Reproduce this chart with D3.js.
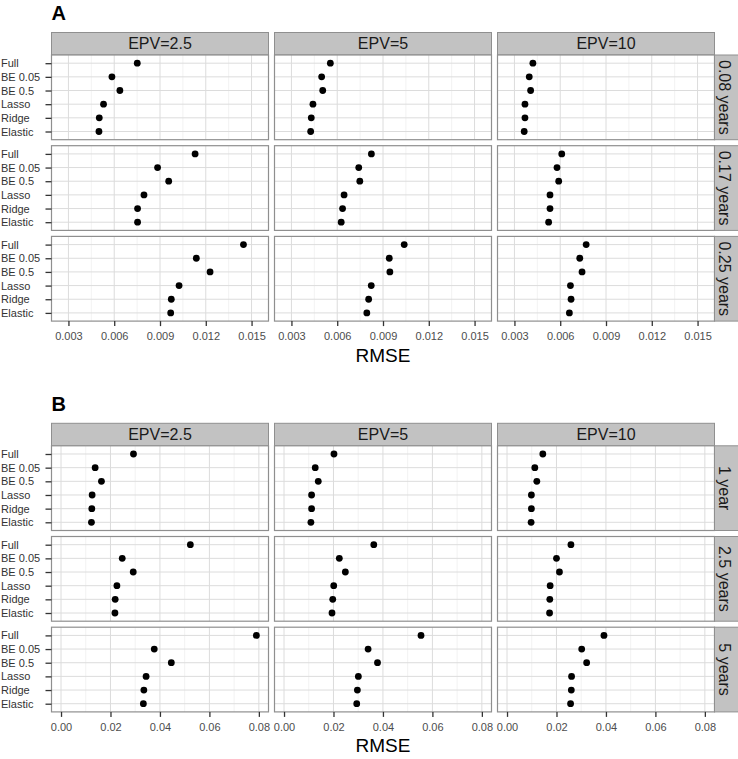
<!DOCTYPE html>
<html>
<head>
<meta charset="utf-8">
<script src="https://cdn.jsdelivr.net/npm/d3@7"></script>
<style>
	body { margin: 0; background: #fff; }
	svg text { font-family: "Liberation Sans", Arial, Helvetica, sans-serif; }
</style>
</head>
<body>
<svg id="chart" width="738" height="759"></svg>
<script>
// categories
var methods = ['Full', 'BE 0.05', 'BE 0.5', 'Lasso', 'Ridge', 'Elastic'];
var epvLabels = ['EPV=2.5', 'EPV=5', 'EPV=10'];
var horizonsA = ['0.08 years', '0.17 years', '0.25 years'];
var horizonsB = ['1 year', '2.5 years', '5 years'];
var ticksA = [0.003, 0.006, 0.009, 0.012, 0.015];
var ticksB = [0.00, 0.02, 0.04, 0.06, 0.08];

// RMSE per horizon, one row per EPV (2.5, 5, 10), values in methods order
var rmseA008 = [
	[0.00751, 0.00585, 0.00637, 0.00530, 0.00502, 0.00500],
	[0.00555, 0.00498, 0.00505, 0.00441, 0.00430, 0.00426],
	[0.00421, 0.00397, 0.00406, 0.00369, 0.00369, 0.00364]
];
var rmseA017 = [
	[0.01130, 0.00884, 0.00957, 0.00795, 0.00753, 0.00753],
	[0.00824, 0.00741, 0.00748, 0.00645, 0.00635, 0.00626],
	[0.00610, 0.00579, 0.00590, 0.00533, 0.00533, 0.00524]
];
var rmseA025 = [
	[0.01447, 0.01138, 0.01228, 0.01025, 0.00974, 0.00970],
	[0.01039, 0.00941, 0.00945, 0.00823, 0.00806, 0.00794],
	[0.00770, 0.00728, 0.00743, 0.00667, 0.00671, 0.00660]
];
var rmseB1 = [
	[0.0293, 0.0138, 0.01635, 0.01258, 0.01245, 0.0123],
	[0.0202, 0.01262, 0.01385, 0.01115, 0.01115, 0.01087],
	[0.01448, 0.01124, 0.01205, 0.00986, 0.00986, 0.00974]
];
var rmseB25 = [
	[0.0523, 0.02475, 0.0292, 0.0226, 0.0219, 0.0218],
	[0.0363, 0.02236, 0.0248, 0.0201, 0.0197, 0.0194],
	[0.02584, 0.0200, 0.0212, 0.01744, 0.0173, 0.0172]
];
var rmseB5 = [
	[0.0790, 0.0377, 0.0446, 0.0344, 0.0335, 0.0333],
	[0.0554, 0.0340, 0.0378, 0.03006, 0.02966, 0.0294],
	[0.0392, 0.0302, 0.0322, 0.0261, 0.0260, 0.0257]
];

var svg = d3.select('#chart');
svg.append('rect').attr('width', 738).attr('height', 759).attr('fill', '#fff');

var colLeft = [51.5, 274.5, 497.5];
var panelW = 217, panelH = 84.7, rowGap = 6;
var stripH = 22.5;

function drawSection(top, letter, horizons, rows, xDomain, ticks, fmt)
{
	var g = svg.append('g').attr('transform', 'translate(0,' + top + ')');

	g.append('text')
		.attr('x', 51.5).attr('y', -12.5)
		.attr('font-size', '20px').attr('font-weight', 'bold').attr('fill', '#000')
		.text(letter);

	var x = d3.scaleLinear().domain(xDomain).range([0, panelW]);
	var y = d3.scalePoint().domain(methods).range([0, panelH]).padding(0.6);

	var step = ticks[1] - ticks[0];
	var minor = [];
	for (var i = -1; i < ticks.length; i++) {
		var m = ticks[0] + step * (i + 0.5);
		if (m > xDomain[0] && m < xDomain[1]) minor.push(m);
	}

	// column strips
	epvLabels.forEach(function(lab, c) {
		var s = g.append('g').attr('transform', 'translate(' + colLeft[c] + ',0)');
		s.append('rect').attr('width', panelW).attr('height', stripH)
			.attr('fill', '#c2c2c2').attr('stroke', '#8f8f8f').attr('stroke-width', 1);
		s.append('text').attr('x', panelW / 2).attr('y', stripH / 2 + 5.6)
			.attr('text-anchor', 'middle').attr('font-size', '16px').attr('fill', '#1a1a1a')
			.text(lab);
	});

	rows.forEach(function(row, r) {
		var py = stripH + r * (panelH + rowGap);

		row.forEach(function(vals, c) {
			var p = g.append('g').attr('transform', 'translate(' + colLeft[c] + ',' + py + ')');

			p.append('rect').attr('width', panelW).attr('height', panelH).attr('fill', '#fff');

			p.selectAll('line.minor').data(minor).enter().append('line')
				.attr('class', 'minor')
				.attr('x1', function(d) { return x(d); }).attr('x2', function(d) { return x(d); })
				.attr('y1', 0).attr('y2', panelH)
				.attr('stroke', '#efefef').attr('stroke-width', 0.8);

			p.selectAll('line.majorx').data(ticks).enter().append('line')
				.attr('class', 'majorx')
				.attr('x1', function(d) { return x(d); }).attr('x2', function(d) { return x(d); })
				.attr('y1', 0).attr('y2', panelH)
				.attr('stroke', '#dcdcdc').attr('stroke-width', 1);

			p.selectAll('line.majory').data(methods).enter().append('line')
				.attr('class', 'majory')
				.attr('x1', 0).attr('x2', panelW)
				.attr('y1', function(d) { return y(d); }).attr('y2', function(d) { return y(d); })
				.attr('stroke', '#dcdcdc').attr('stroke-width', 1);

			p.selectAll('circle').data(vals).enter().append('circle')
				.attr('cx', function(d) { return x(d); })
				.attr('cy', function(d, i) { return y(methods[i]); })
				.attr('r', 3.4).attr('fill', '#000');

			p.append('rect').attr('width', panelW).attr('height', panelH)
				.attr('fill', 'none').attr('stroke', '#8f8f8f').attr('stroke-width', 1.2);

			if (c == 0) {
				var ya = p.append('g').call(d3.axisLeft(y).tickSize(6).tickPadding(4));
				ya.select('.domain').remove();
				ya.selectAll('.tick line').attr('stroke', '#333').attr('stroke-width', 1.3);
				ya.selectAll('.tick text')
					.attr('x', -(colLeft[0] - 1)).attr('text-anchor', 'start')
					.attr('font-size', '11px').attr('fill', '#333')
					.style('font-family', '"Liberation Sans", Arial, sans-serif');
			}

			if (r == rows.length - 1) {
				var xa = p.append('g').attr('transform', 'translate(0,' + panelH + ')')
					.call(d3.axisBottom(x).tickValues(ticks).tickFormat(fmt).tickSize(5).tickPadding(6));
				xa.select('.domain').remove();
				xa.selectAll('.tick line').attr('stroke', '#333').attr('stroke-width', 1.3);
				xa.selectAll('.tick text')
					.attr('font-size', '11px').attr('fill', '#4d4d4d')
					.style('font-family', '"Liberation Sans", Arial, sans-serif');
			}
		});

		// row strip on the right
		var rs = g.append('g').attr('transform', 'translate(' + (colLeft[2] + panelW) + ',' + py + ')');
		rs.append('rect').attr('width', 24).attr('height', panelH)
			.attr('fill', '#c2c2c2').attr('stroke', '#8f8f8f').attr('stroke-width', 1);
		rs.append('text')
			.attr('transform', 'translate(' + 10.5 + ',' + (panelH / 2) + ') rotate(90)')
			.attr('text-anchor', 'middle').attr('y', 0).attr('dy', '0.35em')
			.attr('font-size', '16px').attr('fill', '#1a1a1a')
			.text(horizons[r]);
	});

	g.append('text')
		.attr('x', (colLeft[0] + colLeft[2] + panelW) / 2)
		.attr('y', stripH + 3 * panelH + 2 * rowGap + 40.5)
		.attr('text-anchor', 'middle').attr('font-size', '19px').attr('fill', '#000')
		.text('RMSE');
}

drawSection(32.5, 'A', horizonsA, [
	[rmseA008[0], rmseA008[1], rmseA008[2]],
	[rmseA017[0], rmseA017[1], rmseA017[2]],
	[rmseA025[0], rmseA025[1], rmseA025[2]]
], [0.00189, 0.01611], ticksA, d3.format('.3f'));

drawSection(423.3, 'B', horizonsB, [
	[rmseB1[0], rmseB1[1], rmseB1[2]],
	[rmseB25[0], rmseB25[1], rmseB25[2]],
	[rmseB5[0], rmseB5[1], rmseB5[2]]
], [-0.00385, 0.0839], ticksB, d3.format('.2f'));
</script>
</body>
</html>
